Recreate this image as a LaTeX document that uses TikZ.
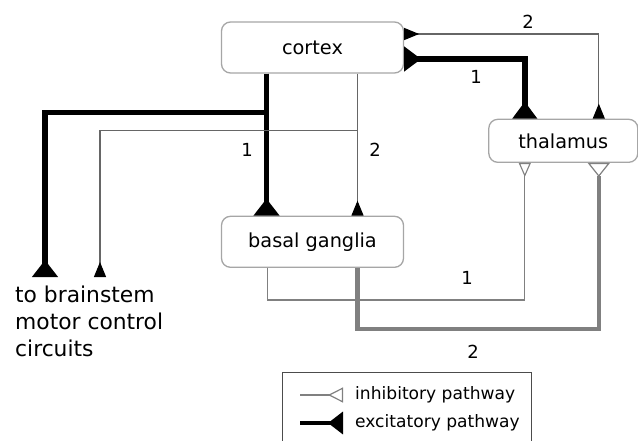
\documentclass[tikz,border=0pt]{standalone}
\usepackage{fontspec}
\setmainfont{DejaVu Sans}
\usepackage{tikz}
\usetikzlibrary{positioning, arrows.meta}

\begin{document}
\begin{tikzpicture}[
        x=1pt, y=-1pt,
        node distance=1cm and .5cm,
        box/.style={rectangle, draw=black!35, fill=white, rounded corners=9pt, line width=1.3pt, minimum width=182pt, minimum height=51pt, align=center, font=\fontsize{19.3}{23}\selectfont},
        lbl/.style={font=\fontsize{18}{22}\selectfont, inner sep=0pt},
        exc/.style={line width=5.5pt, -{Triangle[reversed, length=17pt, width=25pt]}},
        exc2/.style={line width=5.5pt, {Triangle[reversed, length=17pt, width=24pt]}-{Triangle[reversed, length=17pt, width=24pt]}},
        thinexc/.style={line width=1.1pt, black!60, -{Triangle[reversed, length=15pt, width=12pt, color=black]}},
        thinexc2/.style={line width=1.1pt, black!60, {Triangle[reversed, length=15pt, width=12pt, color=black]}-{Triangle[reversed, length=15pt, width=12pt, color=black]}},
        inh/.style={line width=1.1pt, black!50, -{Triangle[reversed, open, length=14pt, width=12pt, fill=white]}},
        thickinh/.style={line width=4.5pt, black!50, -{Triangle[reversed, open, length=14pt, width=22pt, line width=1.2pt, fill=white]}}
        ]
        \useasboundingbox (0,0) rectangle (638,440);

        \node[box] (cortex) at (312.5,47.5) {cortex};
        \node[box, below=142pt of cortex] (basal) {basal ganglia};
        \node[box, minimum width=149pt, minimum height=43pt, below right=45pt and 84pt of cortex] (thalamus) {thalamus};

        \coordinate (stemA) at (45,277);
        \coordinate (stemB) at (100,277);
        \node[anchor=north west, align=left, inner sep=0pt, font=\fontsize{21.8}{27}\selectfont] (stem) at (15,286) {to brainstem\\motor control\\circuits};

        % cortex to basal ganglia and brainstem
        \draw[exc] ([xshift=-46pt]cortex.south) -- ([xshift=-46pt]basal.north);
        \draw[exc] ([xshift=-46pt]cortex.south) -- ([xshift=-46pt, yshift=-39pt]cortex.south) -| (stemA);
        \draw[thinexc] ([xshift=45pt]cortex.south) -- ([xshift=45pt]basal.north);
        \draw[thinexc] ([xshift=45pt, yshift=-57pt]cortex.south) -| (stemB);

        % cortex and thalamus
        \draw[exc2] ([xshift=-38.5pt]thalamus.north) |- ([yshift=-11.5pt]cortex.east);
        \draw[thinexc2] ([xshift=35.5pt]thalamus.north) |- ([yshift=13.5pt]cortex.east);

        % basal ganglia to thalamus
        \draw[inh] ([xshift=-45pt]basal.south) -- ++(0,32) -| ([xshift=-38.5pt]thalamus.south);
        \draw[thickinh] ([xshift=45pt]basal.south) -- ++(0,61) -| ([xshift=35.5pt]thalamus.south);

        \node[lbl] (n1) at (247,150) {1};
        \node[lbl] (n2) at (375,150) {2};
        \node[lbl] (n3) at (476,77) {1};
        \node[lbl] (n4) at (528,22) {2};
        \node[lbl] (n5) at (467,278) {1};
        \node[lbl] (n6) at (473,352) {2};

        % legend
        \node[draw=black!70, line width=1pt, minimum width=249pt, minimum height=80pt, anchor=north west] (legend) at (282,372) {};
        \coordinate (inhA) at (300,395);
        \coordinate (excA) at (300,423);
        \node[anchor=west, inner sep=0pt, font=\fontsize{17.1}{20}\selectfont] (inhtxt) at (355,395) {inhibitory pathway};
        \node[anchor=west, inner sep=0pt, font=\fontsize{17.1}{20}\selectfont] (exctxt) at (355,423) {excitatory pathway};
        \draw[line width=1.8pt, black!50, -{Triangle[reversed, open, length=15pt, width=15pt, line width=1.2pt, fill=white]}] (inhA) -- ([xshift=-12pt]inhtxt.west);
        \draw[line width=3.5pt, -{Triangle[reversed, length=15pt, width=22pt]}] (excA) -- ([xshift=-12pt]exctxt.west);
    \end{tikzpicture}
\end{document}
